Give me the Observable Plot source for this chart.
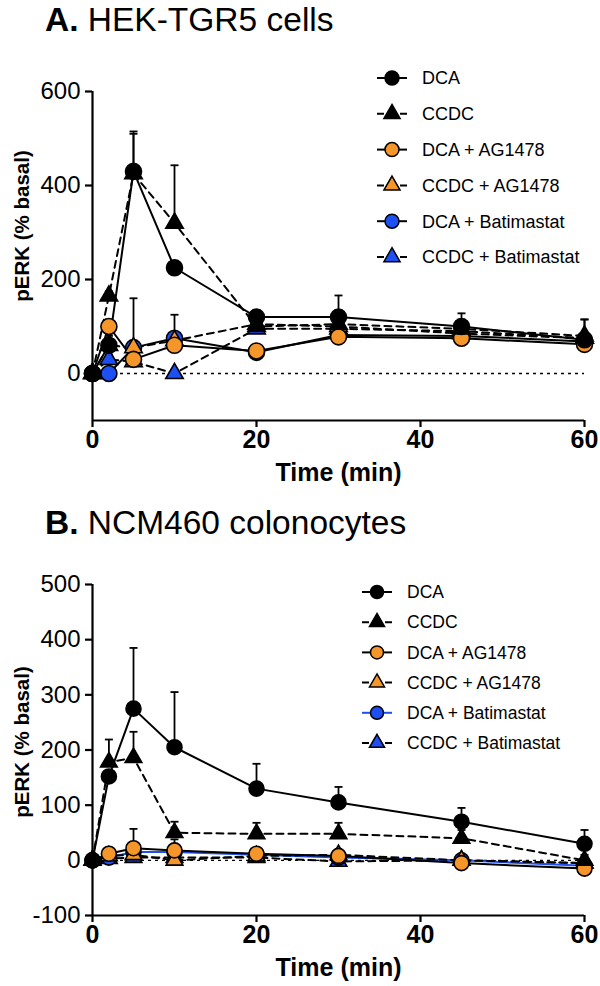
<!DOCTYPE html>
<html>
<head>
<meta charset="utf-8">
<script src="https://cdn.jsdelivr.net/npm/d3@7"></script>
<script src="https://cdn.jsdelivr.net/npm/@observablehq/plot@0.6"></script>
<style>
  html, body { margin: 0; padding: 0; background: #fff; }
  #root { position: relative; width: 600px; height: 986px; font-family: "Liberation Sans", Arial, Helvetica, sans-serif; color: #000; }
  .title { position: absolute; left: 45px; font-size: 33.5px; line-height: 1; white-space: nowrap; }
  .title b { font-weight: bold; }
  .panel { position: absolute; left: 0; }
  .legend { position: absolute; left: 0; top: 0; overflow: visible; pointer-events: none; }
</style>
</head>
<body>
<div id="root"></div>
<script>
// ---------------- DATA ----------------
const times = [0, 2, 5, 10, 20, 30, 45, 60];
const seriesNames = ["DCA", "CCDC", "DCA + AG1478", "CCDC + AG1478", "DCA + Batimastat", "CCDC + Batimastat"];

// Panel A: HEK-TGR5 cells (pERK, % basal)
const aDCA        = [0, 60, 430, 225, 120, 120, 100, 72];
const aCCDC       = [0, 165, 425, 320, 100, 105, 95, 80];
const aDCA_AG     = [0, 100, 30, 60, 48, 78, 75, 62];
const aCCDC_AG    = [0, 60, 55, 70, 105, 100, 85, 75];
const aDCA_Bat    = [0, 0, 55, 75, 45, 82, 80, 68];
const aCCDC_Bat   = [0, 30, 25, 0, 95, 95, 90, 75];
const aDCA_err      = [0, 20, 85, 15, 15, 46, 28, 43];
const aCCDC_err     = [0, 10, 85, 123, 15, 30, 20, 35];
const aDCA_AG_err   = [0, 15, 20, 20, 10, 10, 10, 10];
const aCCDC_AG_err  = [0, 10, 15, 15, 10, 10, 10, 10];
const aDCA_Bat_err  = [0, 10, 105, 50, 10, 10, 10, 10];
const aCCDC_Bat_err = [0, 10, 10, 0, 10, 10, 10, 10];

// Panel B: NCM460 colonocytes
const bDCA        = [0, 152, 275, 205, 130, 105, 70, 30];
const bCCDC       = [0, 178, 186, 50, 48, 48, 40, 0];
const bDCA_AG     = [0, 12, 22, 18, 12, 8, -5, -15];
const bCCDC_AG    = [0, 8, 10, 0, 8, 10, 0, -5];
const bDCA_Bat    = [0, 5, 15, 15, 10, 5, 0, -10];
const bCCDC_Bat   = [0, 3, 5, 5, 5, -2, 0, -5];
const bDCA_err      = [0, 0, 110, 100, 45, 28, 25, 25];
const bCCDC_err     = [0, 41, 47, 20, 20, 20, 15, 10];
const bDCA_AG_err   = [0, 10, 35, 20, 10, 10, 10, 10];
const bCCDC_AG_err  = [0, 8, 15, 10, 8, 8, 8, 8];
const bDCA_Bat_err  = [0, 8, 15, 10, 8, 8, 8, 8];
const bCCDC_Bat_err = [0, 5, 8, 8, 5, 5, 5, 5];

const aTicksY = [0, 200, 400, 600];
const bTicksY = [-100, 0, 100, 200, 300, 400, 500];
const ticksX = [0, 20, 40, 60];
const xLabel = "Time (min)";
const yLabel = "pERK (% basal)";

// ---------------- STYLES ----------------
const ORANGE = "#F5962A";
const BLUE = "#1E4FF2";
const seriesStyle = [
  {symbol: "circle",   fill: "#000", dash: null},
  {symbol: "triangle", fill: "#000", dash: "7,5"},
  {symbol: "circle",   fill: ORANGE, dash: null},
  {symbol: "triangle", fill: ORANGE, dash: "7,5"},
  {symbol: "circle",   fill: BLUE,   dash: null},
  {symbol: "triangle", fill: BLUE,   dash: "7,5"}
];
const capSymbol = {
  draw(context, size) {
    const r = Math.sqrt(size / Math.PI);
    context.moveTo(-r, 0);
    context.lineTo(r, 0);
  }
};
const FONT = "'Liberation Sans', Arial, Helvetica, sans-serif";

function panel({values, errors, yDomain, yTicks, height, marginTop, marginBottom, lineColors, rCircle, rTri}) {
  const rows = values.map((vals, i) => times.map((t, j) => ({t, v: vals[j], e: errors[i][j], s: i})));
  const marks = [];
  marks.push(Plot.ruleY([0], {stroke: "#000", strokeWidth: 1.4, strokeDasharray: "3,4"}));
  for (let i = rows.length - 1; i >= 0; i--) {
    const withErr = rows[i].filter(d => d.e > 0);
    marks.push(Plot.ruleX(withErr, {x: "t", y1: "v", y2: d => d.v + d.e, stroke: "#000", strokeWidth: 1.8}));
    marks.push(Plot.dot(withErr, {x: "t", y: d => d.v + d.e, symbol: capSymbol, r: 4, fill: "none", stroke: "#000", strokeWidth: 1.8}));
    marks.push(Plot.line(rows[i], {x: "t", y: "v", stroke: lineColors[i], strokeWidth: 2, strokeDasharray: seriesStyle[i].dash}));
  }
  for (let i = rows.length - 1; i >= 0; i--) {
    const st = seriesStyle[i];
    marks.push(Plot.dot(rows[i], {x: "t", y: "v", symbol: st.symbol, r: st.symbol === "circle" ? rCircle : rTri,
      fill: st.fill, stroke: "#000", strokeWidth: 1.6}));
  }
  marks.push(Plot.ruleX([0], {stroke: "#000", strokeWidth: 2.2}));
  marks.push(Plot.ruleY([yDomain[0]], {stroke: "#000", strokeWidth: 2.2}));
  marks.push(Plot.axisX({ticks: ticksX, tickSize: 7, tickPadding: 3, fontSize: 25, fontWeight: "bold", label: null, strokeWidth: 2.2, tickFormat: d => String(d)}));
  marks.push(Plot.axisY({ticks: yTicks, tickSize: 7, tickPadding: 5, fontSize: 24, label: null, strokeWidth: 2.2, tickFormat: d => String(d)}));
  marks.push(Plot.text([xLabel], {text: d => d, frameAnchor: "bottom", dy: 52, fontSize: 25, fontWeight: "bold", lineAnchor: "middle"}));
  return Plot.plot({
    width: 600, height,
    marginLeft: 92, marginRight: 16, marginTop, marginBottom,
    x: {domain: [0, 60]},
    y: {domain: yDomain},
    style: {fontFamily: FONT, fontSize: "22px", color: "#000", background: "transparent", overflow: "visible"},
    marks
  });
}

const root = document.getElementById("root");

function addTitle(letter, text, top) {
  const d = document.createElement("div");
  d.className = "title";
  d.style.top = top + "px";
  d.innerHTML = `<b>${letter}</b> ${text}`;
  root.appendChild(d);
}
addTitle("A.", "HEK-TGR5 cells", 3);
addTitle("B.", "NCM460 colonocytes", 506);

const plotA = panel({
  values: [aDCA, aCCDC, aDCA_AG, aCCDC_AG, aDCA_Bat, aCCDC_Bat],
  errors: [aDCA_err, aCCDC_err, aDCA_AG_err, aCCDC_AG_err, aDCA_Bat_err, aCCDC_Bat_err],
  yDomain: [-100, 600], yTicks: aTicksY, height: 470, marginTop: 51, marginBottom: 90,
  lineColors: ["#000", "#000", "#000", "#000", "#000", "#000"], rCircle: 8, rTri: 6.5
});
plotA.classList.add("panel");
plotA.style.top = "40px";
root.appendChild(plotA);

const plotB = panel({
  values: [bDCA, bCCDC, bDCA_AG, bCCDC_AG, bDCA_Bat, bCCDC_Bat],
  errors: [bDCA_err, bCCDC_err, bDCA_AG_err, bCCDC_AG_err, bDCA_Bat_err, bCCDC_Bat_err],
  yDomain: [-100, 500], yTicks: bTicksY, height: 446, marginTop: 44, marginBottom: 71,
  lineColors: ["#000", "#000", "#000", "#000", BLUE, "#000"], rCircle: 7.5, rTri: 6.2
});
plotB.classList.add("panel");
plotB.style.top = "540px";
root.appendChild(plotB);

// ---------------- OVERLAY: legends & y-axis titles ----------------
const overlay = d3.select(root).append("svg").attr("class", "legend")
  .attr("width", 600).attr("height", 986);

function yTitle(cy) {
  overlay.append("text").attr("transform", `translate(22,${cy}) rotate(-90)`)
    .attr("text-anchor", "middle").attr("dy", "0.35em")
    .attr("font-family", FONT).attr("font-size", 20.5).attr("font-weight", "bold").text(yLabel);
}
yTitle(226);
yTitle(742);

function legend({x0, y0, step, fontSize, rC, rT, lineColors}) {
  seriesNames.forEach((name, i) => {
    const st = seriesStyle[i];
    const g = overlay.append("g").attr("transform", `translate(${x0},${y0 + i * step})`);
    g.append("line").attr("x1", -15).attr("x2", 15).attr("y1", 0).attr("y2", 0)
      .attr("stroke", lineColors[i]).attr("stroke-width", 2)
      .attr("stroke-dasharray", st.dash ? "7,16,7" : null);
    const sym = st.symbol === "circle" ? d3.symbolCircle : d3.symbolTriangle;
    const r = st.symbol === "circle" ? rC : rT;
    g.append("path").attr("d", d3.symbol(sym, Math.PI * r * r)())
      .attr("fill", st.fill).attr("stroke", "#000").attr("stroke-width", 1.5);
    g.append("text").attr("x", 30).attr("y", 0).attr("dy", "0.35em")
      .attr("font-family", FONT).attr("font-size", fontSize).text(name);
  });
}
legend({x0: 392, y0: 78, step: 35.8, fontSize: 18, rC: 7, rT: 6, lineColors: ["#000","#000","#000","#000","#000","#000"]});
legend({x0: 377, y0: 592, step: 30.2, fontSize: 17.5, rC: 6.5, rT: 5.6, lineColors: ["#000","#000","#000","#000",BLUE,"#000"]});
</script>
</body>
</html>
